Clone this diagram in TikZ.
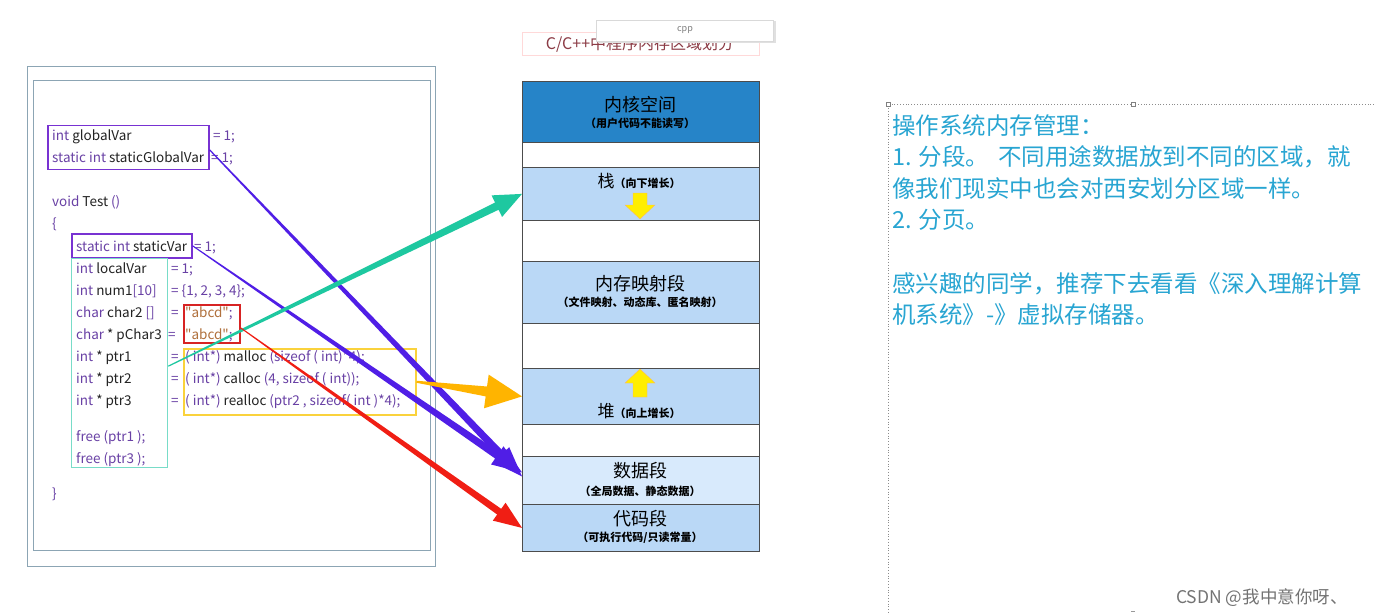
\documentclass[tikz,border=0pt]{standalone}
\usepackage{fontspec}
\setmainfont{Noto Sans CJK SC}
\newfontfamily\codefont{Noto Sans CJK SC}
\usetikzlibrary{calc}
\definecolor{kw}{RGB}{105,65,165}
\definecolor{idc}{RGB}{35,35,35}
\definecolor{strc}{RGB}{176,112,60}
\definecolor{colPurBox}{RGB}{120,50,210}
\definecolor{colTealBox}{RGB}{120,220,200}
\definecolor{colRedBox}{RGB}{215,35,35}
\definecolor{colYelBox}{RGB}{250,210,60}
\definecolor{framec}{RGB}{140,165,180}
\definecolor{kern}{RGB}{38,132,200}
\definecolor{seg}{RGB}{186,216,246}
\definecolor{segl}{RGB}{216,234,252}
\definecolor{tealA}{RGB}{30,200,160}
\definecolor{purA}{RGB}{80,30,230}
\definecolor{redA}{RGB}{240,30,20}
\definecolor{orA}{RGB}{255,180,0}
\definecolor{notec}{RGB}{40,165,210}
\definecolor{titc}{RGB}{140,60,70}
\definecolor{yarr}{RGB}{255,238,0}
\newcommand\K[1]{\textcolor{kw}{#1}}
\newcommand\Sq[1]{\textcolor{strc}{#1}}
% color, from, to, w0, w1, headw, headlen
\newcommand\taperarrow[7]{%
  \coordinate (tpH) at ($(#3)!#7!(#2)$);
  \fill[#1] ($(#2)!#4!90:(#3)$) -- ($(tpH)!#5!90:(#3)$) -- ($(tpH)!#6!90:(#3)$) -- (#3)
     -- ($(tpH)!#6!-90:(#3)$) -- ($(tpH)!#5!-90:(#3)$) -- ($(#2)!#4!-90:(#3)$) -- cycle;}
\begin{document}
\begin{tikzpicture}[x=1pt,y=-1pt,
  code/.style={anchor=base west,inner sep=0,font=\codefont\fontsize{13.5}{15}\selectfont,text=idc},
  hlbox/.style={line width=1.5pt,inner sep=0,anchor=north west},
  segbox/.style={draw=black!70,line width=0.8pt,minimum width=237pt,inner sep=0,anchor=north west},
  big/.style={font=\fontsize{18}{20}\selectfont,inner sep=0},
  small/.style={font=\fontsize{11}{12}\selectfont\bfseries,inner sep=0},
  note/.style={anchor=base west,inner sep=0,text=notec,font=\fontsize{23.5}{26}\selectfont}]
\useasboundingbox (0,0) rectangle (1374,615);
\fill[white] (0,0) rectangle (1374,615);
% left frames
\draw[framec,line width=0.8pt] (27,66) rectangle (435,566);
\draw[framec,line width=0.8pt] (33,80) rectangle (430,550);
% code boxes
\node[hlbox,draw=colPurBox,minimum width=161pt,minimum height=44pt] (gvbox) at (47,125) {};
\node[hlbox,draw=colPurBox,minimum width=120pt,minimum height=24pt] (svbox) at (71,233) {};
\node[hlbox,draw=colTealBox,line width=1.3pt,minimum width=96pt,minimum height=209pt] (lvbox) at (71,258) {};
\node[hlbox,draw=colRedBox,minimum width=56pt,minimum height=38pt] (strbox) at (183,304) {};
\node[hlbox,draw=colYelBox,minimum width=232pt,minimum height=66pt] (hpbox) at (183,348) {};
% code text
\node[code] (c1) at (52,141) {\K{int} globalVar};
\node[code] (c1e) at (213,141) {\K{= 1;}};
\node[code] (c2) at (52,163) {\K{static int} staticGlobalVar};
\node[code] (c2e) at (211,163) {\K{= 1;}};
\node[code] (c3) at (52,206) {\K{void} Test \K{()}};
\node[code] (c4) at (52,228) {\K{\{}};
\node[code] (c5) at (76,251) {\K{static int} staticVar};
\node[code] (c5e) at (194,251) {\K{= 1;}};
\node[code] (c6) at (76,273) {\K{int} localVar};
\node[code] (c6e) at (171,273) {\K{= 1;}};
\node[code] (c7) at (76,295) {\K{int} num1\K{[10]}};
\node[code] (c7e) at (171,295) {\K{= \{1, 2, 3, 4\};}};
\node[code] (c8) at (76,317) {\K{char} char2 \K{[]}};
\node[code] (c8e) at (171,317) {\K{=}};
\node[code] (c8s) at (185,317) {\Sq{"abcd"}\K{;}};
\node[code] (c9) at (76,339) {\K{char} * pChar3};
\node[code] (c9e) at (168,339) {\K{=}};
\node[code] (c9s) at (185,339) {\Sq{"abcd"}\K{;}};
\node[code] (c10) at (76,361) {\K{int} * ptr1};
\node[code] (c10e) at (171,361) {\K{=}};
\node[code] (c10r) at (185,361) {\K{( int*)} malloc \K{(sizeof ( int)*4);}};
\node[code] (c11) at (76,383) {\K{int} * ptr2};
\node[code] (c11e) at (171,383) {\K{=}};
\node[code] (c11r) at (185,383) {\K{( int*)} calloc \K{(4, sizeof ( int));}};
\node[code] (c12) at (76,405) {\K{int} * ptr3};
\node[code] (c12e) at (171,405) {\K{=}};
\node[code] (c12r) at (185,405) {\K{( int*)} realloc \K{(ptr2 , sizeof( int )*4);}};
\node[code] (c13) at (76,441) {\K{free (ptr1 );}};
\node[code] (c14) at (76,463) {\K{free (ptr3 );}};
\node[code] (c15) at (52,498) {\K{\}}};
% title and popup
\node[draw=red!15,line width=0.6pt,minimum width=237pt,minimum height=23pt,inner sep=0,anchor=north west] (titbox) at (522,32) {};
\node[text=titc,font=\fontsize{16}{18}\selectfont,inner sep=0] (tit) at (640,44) {C/C++中程序内存区域划分};
\fill[black!12] (598,21) rectangle (776,43);
\node[draw=black!15,fill=white,minimum width=177pt,minimum height=21pt,inner sep=0,anchor=north west] (popup) at (596,20) {};
\node[text=black!50,font=\fontsize{9}{10}\selectfont,inner sep=0] (cpp) at (685,30) {cpp};
% memory layout
\node[segbox,fill=kern,minimum height=61pt] (kernel) at (522,81) {};
\node[segbox,fill=white,minimum height=25pt] (gap1) at (522,142) {};
\node[segbox,fill=seg,minimum height=53pt] (stack) at (522,167) {};
\node[segbox,fill=white,minimum height=41pt] (gap2) at (522,220) {};
\node[segbox,fill=seg,minimum height=62pt] (mmap) at (522,261) {};
\node[segbox,fill=white,minimum height=45pt] (gap3) at (522,323) {};
\node[segbox,fill=seg,minimum height=56pt] (heap) at (522,368) {};
\node[segbox,fill=white,minimum height=32pt] (gap4) at (522,424) {};
\node[segbox,fill=segl,minimum height=48pt] (data) at (522,456) {};
\node[segbox,fill=seg,minimum height=47pt] (code) at (522,504) {};
\node[big] (kt) at (640,105) {内核空间};
\node[small] (ks) at (640,123) {（用户代码不能读写）};
\node[inner sep=0] (st) at (639,181) {{\fontsize{17}{19}\selectfont 栈}{\fontsize{11}{12}\selectfont\bfseries（向下增长）}};
\node[big] (mt) at (640,284) {内存映射段};
\node[small] (ms) at (640,302) {（文件映射、动态库、匿名映射）};
\node[inner sep=0] (ht) at (639,411) {{\fontsize{17}{19}\selectfont 堆}{\fontsize{11}{12}\selectfont\bfseries（向上增长）}};
\node[big] (dt) at (640,471) {数据段};
\node[small] (ds) at (640,491) {（全局数据、静态数据）};
\node[big] (ct) at (640,519) {代码段};
\node[small] (cs) at (640,538) {（可执行代码/只读常量）};
% yellow growth arrows
\fill[yarr,draw=orange!60,line width=0.3pt] (633,193) -- (647,193) -- (647,205) -- (655,205) -- (640,219) -- (625,205) -- (633,205) -- cycle;
\fill[yarr,draw=orange!60,line width=0.3pt] (633,397) -- (647,397) -- (647,383) -- (655,383) -- (640,369) -- (625,383) -- (633,383) -- cycle;
% right notes
\draw[black!45,dotted,line width=0.8pt] (1374,104) -- (888,104) -- (888,615);
\draw[black!50,fill=white,line width=0.5pt] (886,102) rectangle (890,106);
\draw[black!50,fill=white,line width=0.5pt] (1131,102) rectangle (1135,106);
\draw[black!40,line width=0.8pt] (1131,611) -- (1135,611);
\node[note] (n1) at (892,135) {操作系统内存管理：};
\node[note] (n2a) at (892,166) {1. 分段。};
\node[note] (n2b) at (998,166) {不同用途数据放到不同的区域，就};
\node[note] (n3) at (892,197) {像我们现实中也会对西安划分区域一样。};
\node[note] (n4) at (892,228) {2. 分页。};
\node[note] (n5) at (892,292) {感兴趣的同学，推荐下去看看《深入理解计算};
\node[note] (n6) at (892,323) {机系统》-》虚拟存储器。};
\node[anchor=base west,inner sep=0,text=black!55,font=\fontsize{17.5}{19}\selectfont] (wm) at (1176,603) {CSDN @我中意你呀、};
% arrows
\coordinate (pa1s) at ($(gvbox.east)+(0,2)$);
\coordinate (pa1e) at ($(data.west)+(0,-4)$);
\coordinate (pa2s) at (svbox.east);
\coordinate (pa2e) at ($(data.west)+(0,-8)$);
\coordinate (tas) at ($(lvbox.east)+(0,3)$);
\coordinate (tae) at (stack.west);
\coordinate (ras) at ($(strbox.east)+(0,4)$);
\coordinate (rae) at (code.west);
\coordinate (oas) at (hpbox.east);
\coordinate (oae) at (heap.west);
\taperarrow{purA}{pa1s}{pa1e}{0.6pt}{3.8pt}{11pt}{30pt}
\taperarrow{purA}{pa2s}{pa2e}{0.5pt}{3.8pt}{11pt}{30pt}
\taperarrow{tealA}{tas}{tae}{0.6pt}{4pt}{12pt}{28pt}
\taperarrow{redA}{ras}{rae}{0.5pt}{3.5pt}{11pt}{28pt}
\taperarrow{orA}{oas}{oae}{1pt}{5pt}{17pt}{36pt}
\end{tikzpicture}
\end{document}
